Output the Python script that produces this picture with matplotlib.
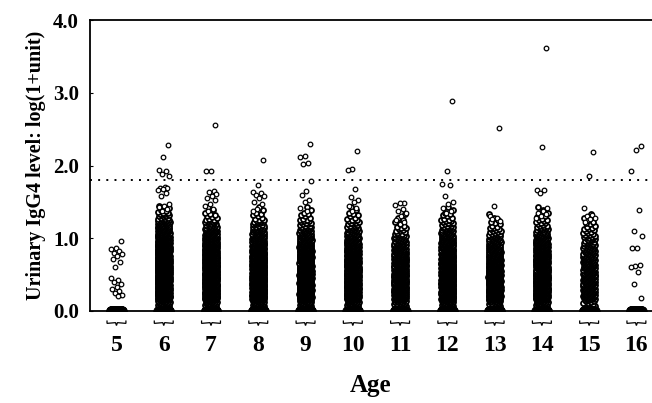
import numpy as np
import matplotlib.pyplot as plt
from matplotlib.path import Path
from matplotlib.patches import PathPatch

ages = [5, 6, 7, 8, 9, 10, 11, 12, 13, 14, 15, 16]

# points sitting at zero, per age (estimated)
zero_counts = [40, 45, 45, 45, 45, 45, 45, 45, 45, 45, 45, 40]

# dense body: estimated counts per 0.1 bin, from 0.06-0.16 up to 1.36-1.46
bin_edges = np.arange(0.06, 1.47, 0.1)
body_counts = [
    [0] * 14,
    [25, 85, 90, 95, 95, 95, 90, 85, 75, 60, 45, 30, 14, 5],
    [25, 85, 90, 90, 90, 85, 80, 75, 65, 50, 35, 18, 7, 2],
    [25, 90, 90, 90, 90, 85, 80, 70, 60, 45, 30, 15, 6, 2],
    [25, 85, 90, 90, 85, 80, 75, 65, 55, 40, 26, 12, 6, 2],
    [25, 80, 85, 85, 80, 75, 70, 60, 50, 38, 24, 12, 6, 2],
    [20, 65, 70, 70, 65, 60, 55, 45, 35, 22, 10, 4, 2, 0],
    [25, 85, 90, 90, 85, 80, 75, 65, 55, 40, 26, 12, 6, 2],
    [20, 65, 70, 70, 65, 60, 55, 45, 35, 24, 12, 5, 2, 0],
    [25, 80, 85, 85, 80, 75, 70, 60, 50, 35, 20, 10, 5, 2],
    [12, 38, 40, 40, 38, 35, 30, 25, 20, 15, 9, 5, 2, 0],
    [0] * 14,
]

# individual points outside the dense body
tail_values = [
    [0.96, 0.87, 0.85, 0.83, 0.80, 0.78, 0.75, 0.72, 0.68, 0.60, 0.45, 0.42,
     0.40, 0.37, 0.33, 0.30, 0.28, 0.25, 0.22, 0.20],
    [2.28, 2.11, 1.94, 1.93, 1.88, 1.85, 1.70, 1.69, 1.69, 1.68, 1.67, 1.62,
     1.58, 1.47, 1.45, 1.43, 1.40, 1.38],
    [2.56, 1.93, 1.93, 1.65, 1.64, 1.61, 1.58, 1.55, 1.52, 1.47, 1.44, 1.40, 1.37],
    [2.08, 1.73, 1.63, 1.62, 1.60, 1.58, 1.56, 1.50, 1.47, 1.40, 1.37],
    [2.30, 2.13, 2.12, 2.03, 2.02, 1.79, 1.65, 1.60, 1.52, 1.50, 1.42, 1.38],
    [2.20, 1.95, 1.94, 1.68, 1.57, 1.53, 1.50, 1.45, 1.42, 1.38],
    [1.49, 1.48, 1.46, 1.40, 1.38, 1.35, 1.30, 1.25, 1.22],
    [2.88, 1.93, 1.75, 1.73, 1.58, 1.50, 1.47, 1.42, 1.38, 1.35],
    [2.51, 1.45, 1.30, 1.28, 1.26, 1.24],
    [3.61, 2.25, 1.67, 1.66, 1.62, 1.42, 1.38, 1.35, 1.33, 1.30, 1.28],
    [2.18, 1.86, 1.41, 1.32, 1.30, 1.28, 1.26, 1.22],
    [2.27, 2.21, 1.92, 1.39, 1.10, 1.03, 0.87, 0.86, 0.63, 0.62, 0.61, 0.54,
     0.37, 0.18],
]

cutoff = 1.8
yticks = [0, 1, 2, 3, 4]
ytick_labels = ['0.0', '1.0', '2.0', '3.0', '4.0']

JIT = 0.13


def jitter(n, start=0):
    # deterministic spread across the strip (golden ratio sequence)
    k = np.arange(start, start + n)
    return ((k * 0.6180339887) % 1.0 - 0.5) * 2 * JIT


plt.rcParams['font.family'] = ['Liberation Serif', 'DejaVu Serif']
plt.rcParams['font.weight'] = 'bold'

fig = plt.figure(figsize=(6.52, 4.03), dpi=100)
ax = fig.add_axes([90 / 652, 92 / 403, 562 / 652, 291 / 403])

mk = dict(marker='o', s=11, facecolors='white', edgecolors='black',
          linewidths=0.9, zorder=3)

for i, age in enumerate(ages):
    ys = []
    for j, n in enumerate(body_counts[i]):
        if n == 0:
            continue
        lo, hi = bin_edges[j], bin_edges[j + 1]
        ys.extend(lo + (np.arange(n) + 0.5) / n * (hi - lo))
    ys = np.array(ys)
    if len(ys):
        # body drawn a touch heavier so it fills in like the printed strip
        ax.scatter(age + jitter(len(ys), 7), ys, marker='o', s=13,
                   facecolors='white', edgecolors='black', linewidths=1.3,
                   zorder=3)
    tv = np.array(tail_values[i])
    ax.scatter(age + jitter(len(tv), 3), tv, **mk)
    z = zero_counts[i]
    ax.scatter(age + jitter(z, 11) * 0.9, np.zeros(z), marker='o', s=48,
               facecolors='black', edgecolors='black', linewidths=0.5,
               zorder=3)

ax.axhline(cutoff, color='black', lw=1.4, ls=(0, (1, 3.2)), zorder=2)

ax.set_xlim(4.44, 16.33)
ax.set_ylim(0, 4.0)
ax.set_yticks(yticks)
ax.set_yticklabels(ytick_labels, fontsize=15, fontweight='bold')
ax.tick_params(axis='y', direction='in', length=2, width=0.8, pad=8)
ax.set_xticks([])
ax.spines['right'].set_visible(False)
for s in ['left', 'top', 'bottom']:
    ax.spines[s].set_linewidth(1.3)

# little braces under each group and age labels
for age in ages:
    w = 0.2
    verts = [(age - w, -0.13), (age - w, -0.17), (age - 0.02, -0.16),
             (age, -0.2), (age + 0.02, -0.16), (age + w, -0.17),
             (age + w, -0.13)]
    codes = [Path.MOVETO] + [Path.LINETO] * 6
    ax.add_patch(PathPatch(Path(verts, codes), fill=False, lw=0.9,
                           transform=ax.transData, clip_on=False))
    ax.text(age, -0.48, str(age), ha='center', va='center', fontsize=17,
            fontweight='bold')

ax.text(0.5, -0.255, 'Age', transform=ax.transAxes, ha='center',
        va='center', fontsize=18, fontweight='bold')
ax.set_ylabel('Urinary IgG4 level: log(1+unit)', fontsize=14.5,
              fontweight='bold', labelpad=5)

fig.savefig('out.png', dpi=100)
